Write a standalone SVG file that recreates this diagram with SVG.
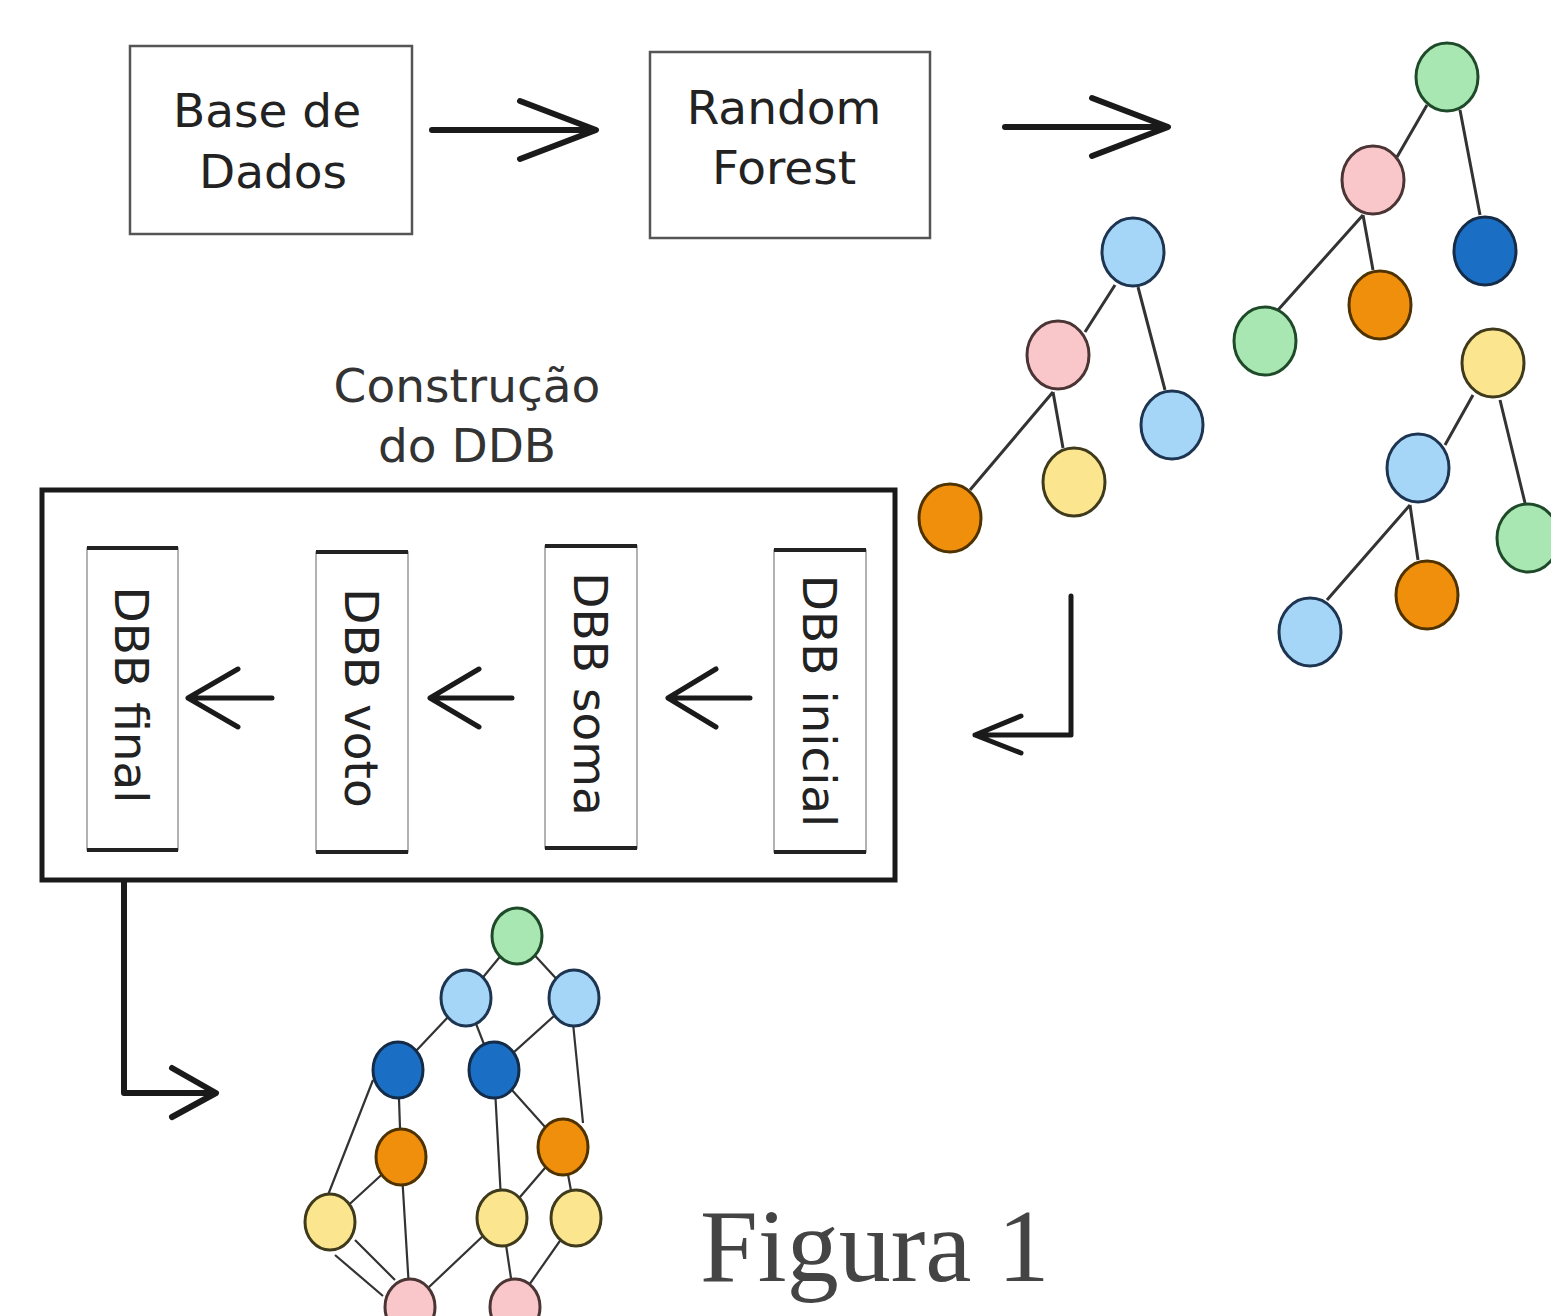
<svg xmlns="http://www.w3.org/2000/svg" width="1551" height="1316" viewBox="0 0 1551 1316">
<style>
  .lbl { font-family: "DejaVu Sans", Verdana, sans-serif; font-size: 47px; fill: #222; text-anchor: middle; }
  .box { fill: #fff; stroke: #555; stroke-width: 2.5; }
  .arr { fill: none; stroke: #1a1a1a; stroke-width: 6; stroke-linecap: round; stroke-linejoin: round; }
  .edge { stroke: #333; stroke-width: 3; fill: none; }
  .gedge { stroke: #333; stroke-width: 2.2; fill: none; }
  .n { stroke-width: 3; }
  .green { fill: #a8e6b2; stroke: #1f4a2a; }
  .pink { fill: #f9c6c9; stroke: #4a3434; }
  .dblue { fill: #1a6fc4; stroke: #142c48; }
  .lblue { fill: #a5d6f8; stroke: #1d3550; }
  .orange { fill: #f08f0c; stroke: #4e3200; }
  .yellow { fill: #fbe68f; stroke: #3f3a1c; }
  .side { fill: #fff; stroke: #999; stroke-width: 1.5; }
  .cap { stroke: #222; stroke-width: 4; }
</style>

<g id="connectors">
  <path class="arr" d="M432,130 L594,130 M520,101 L596,130 L520,159"/>
  <path class="arr" d="M1005,127 L1166,127 M1092,98 L1168,127 L1092,156"/>
  <path class="arr" style="stroke-width:5" d="M1071,596 L1071,735 L975,735 M1021,716 L975,735 L1021,753"/>
  <path class="arr" style="stroke-width:5" d="M272,698 L188,698 M238,669 L188,698 L238,727"/>
  <path class="arr" style="stroke-width:5" d="M512,698 L430,698 M479,669 L430,698 L479,727"/>
  <path class="arr" style="stroke-width:5" d="M750,698 L668,698 M716,669 L668,698 L716,727"/>
  <path class="arr" d="M124,882 L124,1093 L214,1093 M172,1068 L216,1093 L172,1117"/>
</g>

<g id="node-base-dados">
  <rect class="box" x="130" y="46" width="282" height="188"/>
  <text class="lbl" x="267" y="127">Base de</text>
  <text class="lbl" x="273" y="188">Dados</text>
</g>

<g id="node-random-forest">
  <rect class="box" x="650" y="52" width="280" height="186"/>
  <text class="lbl" x="784" y="124">Random</text>
  <text class="lbl" x="784" y="184">Forest</text>
</g>

<g id="tree-a">
  <path class="edge" d="M1427,105 L1397,157 M1460,110 L1480,215 M1363,215 L1278,310 M1363,215 L1373,270"/>
  <ellipse class="n green" cx="1447" cy="77" rx="31" ry="34"/>
  <ellipse class="n pink" cx="1373" cy="180" rx="31" ry="34"/>
  <ellipse class="n dblue" cx="1485" cy="251" rx="31" ry="34"/>
  <ellipse class="n orange" cx="1380" cy="305" rx="31" ry="34"/>
  <ellipse class="n green" cx="1265" cy="341" rx="31" ry="34"/>
</g>

<g id="tree-b">
  <path class="edge" d="M1115,285 L1085,332 M1138,287 L1165,390 M1053,392 L970,490 M1053,392 L1063,448"/>
  <ellipse class="n lblue" cx="1133" cy="252" rx="31" ry="34"/>
  <ellipse class="n pink" cx="1058" cy="355" rx="31" ry="34"/>
  <ellipse class="n lblue" cx="1172" cy="425" rx="31" ry="34"/>
  <ellipse class="n yellow" cx="1074" cy="482" rx="31" ry="34"/>
  <ellipse class="n orange" cx="950" cy="518" rx="31" ry="34"/>
</g>

<g id="tree-c">
  <path class="edge" d="M1473,395 L1445,445 M1500,400 L1525,503 M1410,505 L1327,600 M1410,505 L1418,560"/>
  <ellipse class="n yellow" cx="1493" cy="363" rx="31" ry="34"/>
  <ellipse class="n lblue" cx="1418" cy="468" rx="31" ry="34"/>
  <ellipse class="n green" cx="1528" cy="538" rx="31" ry="34"/>
  <ellipse class="n orange" cx="1427" cy="595" rx="31" ry="34"/>
  <ellipse class="n lblue" cx="1310" cy="632" rx="31" ry="34"/>
</g>

<g id="label-construcao">
  <text class="lbl" x="467" y="402" style="fill:#333">Construção</text>
  <text class="lbl" x="467" y="462" style="fill:#333">do DDB</text>
</g>

<g id="node-ddb-container">
  <rect x="42" y="490" width="853" height="390" fill="none" stroke="#1a1a1a" stroke-width="5"/>
</g>

<g id="node-dbb-final">
  <rect class="side" x="87" y="548" width="91" height="302"/>
  <line class="cap" x1="87" y1="548" x2="178" y2="548"/>
  <line class="cap" x1="87" y1="850" x2="178" y2="850"/>
  <text class="lbl" transform="translate(115,695) rotate(90)" x="0" y="0">DBB final</text>
</g>

<g id="node-dbb-voto">
  <rect class="side" x="316" y="552" width="92" height="300"/>
  <line class="cap" x1="316" y1="552" x2="408" y2="552"/>
  <line class="cap" x1="316" y1="852" x2="408" y2="852"/>
  <text class="lbl" transform="translate(345,698) rotate(90)" x="0" y="0">DBB voto</text>
</g>

<g id="node-dbb-soma">
  <rect class="side" x="545" y="546" width="92" height="302"/>
  <line class="cap" x1="545" y1="546" x2="637" y2="546"/>
  <line class="cap" x1="545" y1="848" x2="637" y2="848"/>
  <text class="lbl" transform="translate(574,694) rotate(90)" x="0" y="0">DBB soma</text>
</g>

<g id="node-dbb-inicial">
  <rect class="side" x="774" y="550" width="92" height="302"/>
  <line class="cap" x1="774" y1="550" x2="866" y2="550"/>
  <line class="cap" x1="774" y1="852" x2="866" y2="852"/>
  <text class="lbl" transform="translate(803,701) rotate(90)" x="0" y="0">DBB inicial</text>
</g>

<g id="graph-final">
  <path class="gedge" d="
    M517,936 L466,998 M517,936 L574,998
    M466,998 L398,1070 M466,998 L494,1070
    M574,998 L494,1070 M573,1023 L583,1123
    M398,1070 L401,1157 M373,1080 L328,1195
    M494,1070 L502,1218 M494,1070 L563,1147
    M401,1157 L330,1222 M401,1157 L410,1305
    M335,1255 L383,1296 M355,1240 L395,1280
    M563,1147 L502,1218 M563,1147 L576,1218
    M502,1218 L410,1305 M502,1218 L515,1305
    M576,1218 L515,1305"/>
  <ellipse class="n green" cx="517" cy="936" rx="25" ry="28"/>
  <ellipse class="n lblue" cx="466" cy="998" rx="25" ry="28"/>
  <ellipse class="n lblue" cx="574" cy="998" rx="25" ry="28"/>
  <ellipse class="n dblue" cx="398" cy="1070" rx="25" ry="28"/>
  <ellipse class="n dblue" cx="494" cy="1070" rx="25" ry="28"/>
  <ellipse class="n orange" cx="401" cy="1157" rx="25" ry="28"/>
  <ellipse class="n orange" cx="563" cy="1147" rx="25" ry="28"/>
  <ellipse class="n yellow" cx="330" cy="1222" rx="25" ry="28"/>
  <ellipse class="n yellow" cx="502" cy="1218" rx="25" ry="28"/>
  <ellipse class="n yellow" cx="576" cy="1218" rx="25" ry="28"/>
  <ellipse class="n pink" cx="410" cy="1307" rx="25" ry="28"/>
  <ellipse class="n pink" cx="515" cy="1307" rx="25" ry="28"/>
</g>

<g id="caption">
  <text x="700" y="1281" style="font-family:'Liberation Serif','Times New Roman',serif;font-size:104px;fill:#444">Figura 1</text>
</g>
</svg>
